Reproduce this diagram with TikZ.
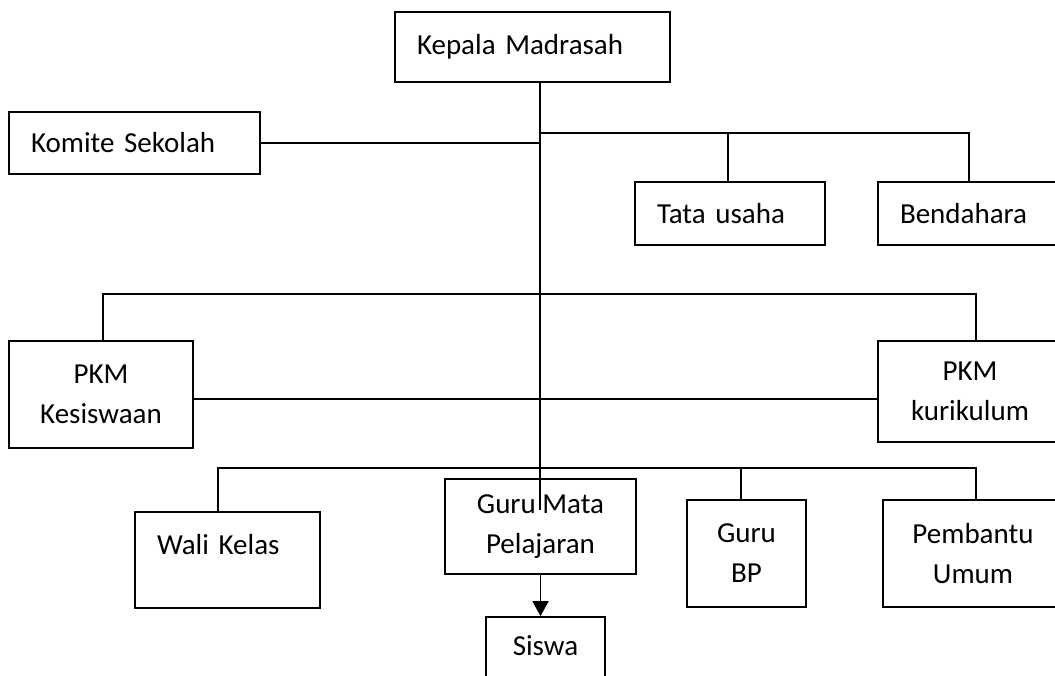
\documentclass[tikz,border=0pt]{standalone}
\usepackage{fontspec}
\setmainfont{Carlito}
\usepackage{tikz}
\usetikzlibrary{arrows.meta}
\tikzstyle{kotak}=[rectangle, draw=black, line width=1.8pt, inner sep=0pt, align=center, font=\fontsize{29}{40}\selectfont]
\tikzstyle{kotakkiri}=[kotak, align=left, inner xsep=22pt]

\begin{document}
\begin{tikzpicture}[x=1pt, y=-1pt, line width=1.8pt]
	\useasboundingbox (0,0) rectangle (1055,675);
	\node[kotakkiri, text width=231pt, minimum height=70pt] (kepala) at (532.5,47) {Kepala Madrasah};
	\node[kotakkiri, text width=207pt, minimum height=62pt] (komite) at (134.5,143) {Komite Sekolah};
	\node[kotakkiri, text width=146pt, minimum height=63pt] (tatausaha) at (730,213.5) {Tata usaha};
	\node[kotakkiri, text width=153pt, minimum height=63pt] (bendahara) at (976.5,213.5) {Bendahara};
	\node[kotak, minimum width=184pt, minimum height=107pt] (kesiswaan) at (101,394.5) {PKM\\Kesiswaan};
	\node[kotak, minimum width=184pt, minimum height=101pt] (kurikulum) at (970,391.5) {PKM\\kurikulum};
	\node[kotakkiri, text width=141pt, minimum height=96pt, text height=20pt, text depth=32pt] (walikelas) at (227.5,560) {Wali Kelas};
	\node[kotak, minimum width=191pt, minimum height=95pt] (gurumapel) at (540.5,526.5) {Guru Mata\\Pelajaran};
	\node[kotak, minimum width=119pt, minimum height=107pt] (gurubp) at (746.5,553.5) {Guru\\BP};
	\node[kotak, minimum width=180pt, minimum height=107pt] (pembantu) at (973,553.5) {Pembantu\\Umum};
	\node[kotak, minimum width=119pt, minimum height=83pt, text height=20pt, text depth=27pt] (siswa) at (545.5,658.5) {Siswa};

	\coordinate (pusat) at (540,510);
	\coordinate (cabang) at (540,133);
	\coordinate (pkm) at (540,294);
	\coordinate (bawah) at (540,468);

	\draw (kepala.south -| pusat) -- (pusat);
	\draw (komite.east) -- (komite.east -| pusat);
	\draw (cabang) -| ([xshift=-7.5pt]bendahara.north);
	\draw ([xshift=-2pt]tatausaha.north) -- ([xshift=-2pt]tatausaha.north |- cabang);
	\draw ([xshift=2pt]kesiswaan.north) |- (pkm) -| ([xshift=6pt]kurikulum.north);
	\draw ([yshift=-4.5pt]kesiswaan.east) -- ([yshift=-4.5pt]kesiswaan.east -| kurikulum.west);
	\draw ([xshift=-9.5pt]walikelas.north) |- (bawah) -| ([xshift=3pt]pembantu.north);
	\draw ([xshift=-5.5pt]gurubp.north) -- ([xshift=-5.5pt]gurubp.north |- bawah);
	\draw[-{Triangle[length=15pt, width=16pt]}] (gurumapel.south) -- (gurumapel.south |- siswa.north);
\end{tikzpicture}
\end{document}
